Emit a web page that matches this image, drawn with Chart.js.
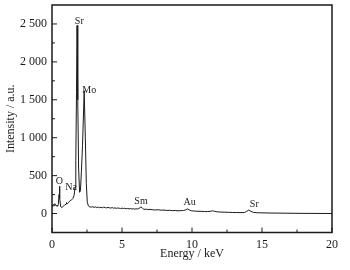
<!DOCTYPE html>
<html lang="en">
<head>
<meta charset="utf-8" />
<title>EDS spectrum</title>
<script src="https://cdn.jsdelivr.net/npm/chart.js@4/dist/chart.umd.min.js"></script>
<style>
  html, body { margin: 0; padding: 0; background: #fff; }
  #wrap { width: 350px; height: 270px; }
</style>
</head>
<body>
<div id="wrap"><canvas id="spec"></canvas></div>
<script>
// spectrum
const energyKeV = [
  0.00, 0.05, 0.10, 0.15, 0.20, 0.25, 0.30, 0.35, 0.40, 0.45,
  0.50, 0.53, 0.57, 0.62, 0.70, 0.80, 0.90, 1.00, 1.04, 1.10,
  1.20, 1.30, 1.40, 1.50, 1.58, 1.65, 1.70, 1.75, 1.79, 1.84,
  1.90, 1.97, 2.03, 2.10, 2.18, 2.30, 2.38, 2.45, 2.52, 2.60,
  2.70, 2.80, 2.90, 3.00, 3.10, 3.20, 3.30, 3.40, 3.50, 3.60,
  3.70, 3.80, 3.90, 4.00, 4.10, 4.20, 4.30, 4.40, 4.50, 4.60,
  4.70, 4.80, 4.90, 5.00, 5.10, 5.20, 5.30, 5.40, 5.50, 5.60,
  5.70, 5.80, 5.90, 6.00, 6.10, 6.20, 6.30, 6.36, 6.45, 6.55,
  6.65, 6.75, 6.85, 7.00, 7.20, 7.40, 7.60, 7.80, 8.00, 8.20,
  8.40, 8.60, 8.80, 9.00, 9.20, 9.40, 9.55, 9.68, 9.80, 9.95,
  10.10, 10.30, 10.50, 10.70, 10.90, 11.10, 11.30, 11.45, 11.60, 11.80,
  12.00, 12.30, 12.60, 12.90, 13.20, 13.50, 13.75, 13.90, 14.05, 14.20,
  14.40, 14.70, 15.00, 15.50, 16.00, 16.50, 17.00, 17.50, 18.00, 18.50,
  19.00, 19.50, 20.00
];
const counts = [
  110, 95, 120, 105, 130, 115, 100, 110, 95, 120,
  250, 360, 200, 90, 80, 95, 110, 125, 145, 130,
  150, 170, 180, 200, 240, 350, 700, 1600, 2480, 1500,
  600, 280, 300, 550, 900, 1620, 1000, 400, 150, 100,
  88, 84, 90, 82, 87, 80, 85, 78, 83, 76,
  84, 79, 74, 81, 76, 72, 79, 70, 75, 68,
  74, 70, 65, 72, 66, 70, 63, 67, 61, 66,
  60, 64, 58, 62, 60, 66, 80, 88, 72, 58,
  55, 58, 52, 55, 50, 47, 50, 44, 46, 41,
  43, 38, 40, 36, 38, 40, 48, 62, 48, 36,
  34, 31, 30, 28, 27, 26, 29, 36, 30, 22,
  20, 18, 16, 14, 13, 12, 14, 28, 45, 30,
  14, 10, 9, 7, 6, 5, 4, 3, 2, 2,
  1, 1, 0
];

// peak labels (text, energy, counts where the text sits)
const peakNames = ['Sr', 'Mo', 'O', 'Na', 'Sm', 'Au', 'Sr'];
const peakKeV = [1.95, 2.66, 0.52, 1.36, 6.36, 9.83, 14.45];
const peakCounts = [2540, 1630, 420, 342, 162, 149, 118];

// axes
const xTicks = [0, 5, 10, 15, 20];
const xMinorTicks = [2.5, 7.5, 12.5, 17.5];
const yTicks = [0, 500, 1000, 1500, 2000, 2500];
const yTickLabels = ['0', '500', '1 000', '1 500', '2 000', '2 500'];
const yMinorTicks = [250, 750, 1250, 1750, 2250];

const serif = '"Liberation Serif", "DejaVu Serif", serif';
const ink = '#1a1a1a';

const points = energyKeV.map((e, i) => ({ x: e, y: counts[i] }));

// box, inward ticks and element labels
const framePlugin = {
  id: 'framePlugin',
  afterDatasetsDraw(chart) {
    const { ctx, chartArea: a, scales: { x, y } } = chart;
    ctx.save();
    ctx.strokeStyle = ink;
    ctx.lineWidth = 1;
    const tick = (x1, y1, x2, y2) => {
      ctx.beginPath(); ctx.moveTo(x1, y1); ctx.lineTo(x2, y2); ctx.stroke();
    };
    xTicks.forEach(v => { const p = x.getPixelForValue(v); tick(p, a.bottom, p, a.bottom - 5); });
    xMinorTicks.forEach(v => { const p = x.getPixelForValue(v); tick(p, a.bottom, p, a.bottom - 3); });
    yTicks.forEach(v => { const p = y.getPixelForValue(v); tick(a.left, p, a.left + 5, p); });
    yMinorTicks.forEach(v => { const p = y.getPixelForValue(v); tick(a.left, p, a.left + 3, p); });

    ctx.lineWidth = 1.5;
    ctx.strokeRect(a.left, a.top, a.right - a.left, a.bottom - a.top);

    ctx.fillStyle = ink;
    ctx.font = '10px ' + serif;
    ctx.textAlign = 'center';
    ctx.textBaseline = 'middle';
    peakNames.forEach((n, i) => {
      ctx.fillText(n, x.getPixelForValue(peakKeV[i]), y.getPixelForValue(peakCounts[i]));
    });
    ctx.restore();
  }
};

new Chart(document.getElementById('spec'), {
  type: 'line',
  data: {
    datasets: [{
      data: points,
      borderColor: ink,
      borderWidth: 1,
      pointRadius: 0,
      tension: 0
    }]
  },
  options: {
    responsive: true,
    maintainAspectRatio: false,
    animation: false,
    layout: { padding: { top: 5, right: 18, left: 0, bottom: 0 } },
    plugins: { legend: { display: false }, tooltip: { enabled: false } },
    scales: {
      x: {
        type: 'linear',
        min: 0, max: 20,
        afterBuildTicks: s => { s.ticks = xTicks.map(v => ({ value: v })); },
        afterFit: s => { s.height = 37.5; s.paddingLeft = 0; s.paddingRight = 0; },
        grid: { display: false, drawTicks: false },
        border: { display: false },
        ticks: { color: ink, padding: 5, maxRotation: 0, font: { family: serif, size: 12 } },
        title: { display: true, text: 'Energy / keV', color: ink, padding: { top: 0, bottom: 9 }, font: { family: serif, size: 12 } }
      },
      y: {
        min: -250, max: 2750,
        afterBuildTicks: s => { s.ticks = yTicks.map(v => ({ value: v })); },
        afterFit: s => { s.width = 52; s.paddingTop = 0; s.paddingBottom = 0; },
        grid: { display: false, drawTicks: false },
        border: { display: false },
        ticks: {
          color: ink, padding: 5,
          font: { family: serif, size: 12 },
          callback: v => yTickLabels[yTicks.indexOf(v)]
        },
        title: { display: true, text: 'Intensity / a.u.', color: ink, padding: { top: 4, bottom: 0 }, font: { family: serif, size: 12 } }
      }
    }
  },
  plugins: [framePlugin]
});
</script>
</body>
</html>
